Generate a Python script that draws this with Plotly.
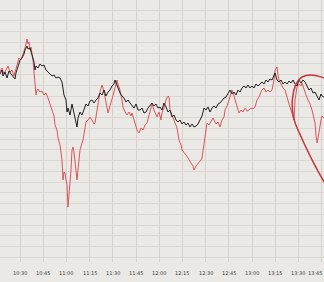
import plotly.graph_objects as go

# pixel-read traces: x pixel -> minutes since 10:00, y pixel -> price units
black_px = [(0,74),(2,70),(3,76),(5,72),(7,78),(9,71),(11,74),(13,77),(15,79),(16,73),(18,65),(20,60),(22,58),(24,54),(25,50),(27,46),(28,49),(30,48),(32,55),(34,62),(35,70),(36,66),(38,68),(40,64),(42,66),(44,65),(46,70),(48,72),(50,74),(52,76),(54,75),(56,78),(58,77),(60,78),(62,82),(64,95),(66,100),(67,112),(68,108),(70,115),(72,104),(74,112),(75,118),(77,127),(78,118),(80,112),(82,115),(84,110),(86,104),(88,106),(90,101),(92,100),(94,103),(96,100),(98,98),(100,93),(102,95),(104,90),(106,96),(108,92),(110,90),(112,86),(114,84),(115,80),(117,86),(118,88),(120,93),(122,96),(124,98),(126,102),(128,100),(130,103),(132,106),(134,108),(136,104),(138,110),(140,110),(142,108),(144,113),(146,112),(148,108),(150,106),(152,103),(154,106),(156,104),(158,108),(160,107),(162,110),(164,103),(166,107),(168,112),(170,110),(172,117),(174,115),(176,120),(178,122),(180,120),(182,124),(184,122),(186,125),(188,123),(190,127),(192,124),(194,127),(196,126),(198,124),(200,120),(202,116),(204,108),(206,110),(208,107),(210,112),(212,108),(214,106),(216,108),(218,104),(220,103),(222,100),(224,98),(226,97),(228,93),(230,90),(232,94),(234,92),(236,95),(238,90),(240,92),(242,88),(244,86),(246,88),(248,85),(250,88),(252,86),(254,88),(256,84),(258,86),(260,84),(262,82),(264,84),(266,80),(268,82),(270,79),(272,80),(274,76),(275,73),(277,80),(279,82),(281,80),(283,84),(285,82),(287,84),(289,81),(291,83),(293,80),(295,84),(297,86),(299,80),(301,83),(303,80),(305,82),(307,86),(309,90),(311,88),(313,93),(315,92),(317,97),(319,100),(321,94),(322,96),(324,97)]
red_px = [(0,72),(2,68),(4,74),(6,70),(8,66),(10,72),(12,70),(14,76),(15,72),(17,65),(19,58),(21,60),(23,55),(25,48),(27,39),(28,44),(29,42),(30,50),(31,47),(32,52),(33,60),(34,72),(35,88),(36,95),(37,90),(38,89),(40,92),(42,91),(44,95),(46,93),(48,98),(50,104),(52,110),(54,116),(55,125),(57,130),(58,138),(60,145),(62,160),(63,180),(64,172),(65,173),(66,180),(67,185),(68,207),(69,195),(70,190),(71,170),(72,150),(73,147),(74,152),(75,160),(76,170),(77,180),(78,170),(79,160),(80,150),(82,143),(83,140),(85,128),(86,122),(88,120),(90,117),(92,120),(94,124),(95,123),(97,110),(98,103),(100,92),(102,85),(103,88),(105,97),(107,108),(108,113),(110,106),(112,100),(114,92),(116,84),(117,80),(118,84),(120,90),(122,100),(123,107),(125,112),(127,115),(129,112),(131,116),(132,113),(134,120),(136,125),(137,130),(139,133),(141,128),(143,130),(145,125),(147,123),(149,115),(151,108),(152,104),(154,110),(156,114),(157,117),(159,112),(161,120),(162,113),(164,108),(166,100),(168,96),(169,97),(170,110),(172,115),(174,120),(176,125),(177,128),(179,140),(181,145),(182,150),(184,152),(186,155),(188,158),(189,160),(191,163),(193,166),(194,170),(196,166),(198,164),(199,163),(201,160),(202,158),(204,143),(205,133),(207,123),(209,125),(211,122),(213,118),(214,120),(216,124),(218,122),(220,127),(222,120),(224,117),(225,110),(227,106),(229,100),(231,93),(232,90),(234,96),(235,100),(237,108),(239,113),(241,110),(243,112),(245,108),(247,111),(249,110),(251,108),(253,109),(255,107),(257,100),(259,97),(261,92),(262,90),(264,88),(266,92),(268,90),(270,92),(272,90),(274,80),(275,70),(277,67),(278,75),(279,80),(281,84),(283,88),(285,90),(287,98),(289,104),(291,110),(293,118),(294,120),(295,100),(297,87),(299,84),(301,86),(302,83),(304,90),(306,95),(308,100),(310,104),(312,110),(314,118),(315,123),(316,135),(317,143),(318,138),(319,130),(321,120),(322,116),(324,118)]

MIN_PER_PX = 15 / 23.2
X0 = 30 - 20 * MIN_PER_PX
PX_PER_UNIT = 10.75
VMAX = 24 + 10 / PX_PER_UNIT
PLOT_H = 262

black_t = [round(X0 + x * MIN_PER_PX, 2) for x, _ in black_px]
black_v = [round(VMAX - y / PX_PER_UNIT, 3) for _, y in black_px]
red_t = [round(X0 + x * MIN_PER_PX, 2) for x, _ in red_px]
red_v = [round(VMAX - y / PX_PER_UNIT, 3) for _, y in red_px]

tick_vals = list(range(15, 240, 15))
tick_text = ["%d:%02d" % (10 + v // 60, v % 60) for v in tick_vals]

fig = go.Figure()
fig.add_trace(go.Scatter(x=red_t, y=red_v, mode="lines",
                         line=dict(color="#d9565c", width=1), hoverinfo="skip"))
fig.add_trace(go.Scatter(x=black_t, y=black_v, mode="lines",
                         line=dict(color="#1e1e1e", width=1), hoverinfo="skip"))

def px(x, y):
    return "%f,%f" % (x / 324, 1 - y / PLOT_H)

# hand-drawn ellipse (smooth cubic path, paper coords)
path = ("M " + px(338, 88) + " C " + px(330, 78) + " " + px(312, 72) + " " + px(302, 77)
        + " C " + px(292, 83) + " " + px(288, 110) + " " + px(298, 130)
        + " C " + px(306, 148) + " " + px(316, 170) + " " + px(328, 188))

annotations = []
for v, t in zip(tick_vals, tick_text):
    xpix = (v - X0) / MIN_PER_PX
    a = dict(x=v, y=0, xref="x", yref="paper", text=t, showarrow=False,
             yanchor="top", yshift=-6, font=dict(size=5, color="#3a3a3a", family="DejaVu Sans"))
    if xpix > 312:
        a.update(x=1, xref="paper", xanchor="right")
    annotations.append(a)

fig.update_layout(
    width=324, height=282,
    margin=dict(l=0, r=0, t=0, b=20),
    paper_bgcolor="#ebe9e5", plot_bgcolor="#ebe9e5",
    showlegend=False,
    xaxis=dict(range=[X0, X0 + 324 * MIN_PER_PX], tickvals=tick_vals, showticklabels=False,
               showgrid=True, gridcolor="#d5d2cd", gridwidth=1, zeroline=False,
               ticks="", showline=False),
    yaxis=dict(range=[VMAX - PLOT_H / PX_PER_UNIT, VMAX], dtick=1, showgrid=True,
               gridcolor="#dbd8d3", gridwidth=1, zeroline=False, showticklabels=False,
               ticks="", showline=False),
    shapes=[dict(type="path", xref="paper", yref="paper", path=path,
                 line=dict(color="#c8333a", width=1.5))],
    annotations=annotations,
)
fig.write_html("out.html")
